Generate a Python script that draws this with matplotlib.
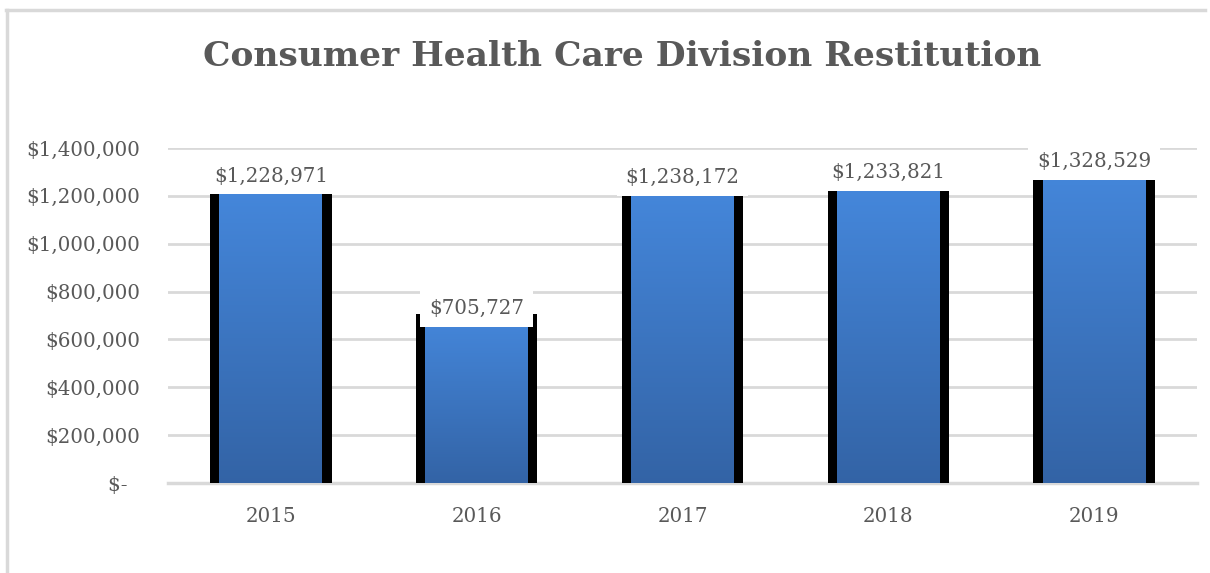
import matplotlib
matplotlib.use("Agg")
import matplotlib.pyplot as plt
import numpy as np
from matplotlib.lines import Line2D

years = ["2015", "2016", "2017", "2018", "2019"]
restitution = [1228971, 705727, 1238172, 1233821, 1328529]
yticks = [0, 200000, 400000, 600000, 800000, 1000000, 1200000, 1400000]
ytick_labels = ["$-  ", "$200,000", "$400,000", "$600,000", "$800,000",
                "$1,000,000", "$1,200,000", "$1,400,000"]
value_labels = ["$1,228,971", "$705,727", "$1,238,172", "$1,233,821", "$1,328,529"]
title = "Consumer Health Care Division Restitution"

label_offsets_px = [13, 6, 9, 15, 4]

TXT = "#595959"
GRID = "#d9d9d9"
FONT = "DejaVu Serif"

fig = plt.figure(figsize=(12.10, 5.73), dpi=100)
ax = fig.add_axes([168/1210, 1-483/573, (1197-168)/1210, (483-148)/573])

x = np.arange(len(years))
outer = ax.bar(x, restitution, width=0.59, color="black", zorder=2)
inner = ax.bar(x, restitution, width=0.50, color="#3f78c4", zorder=3)

top_c = np.array([0.27, 0.53, 0.86])
bot_c = np.array([0.20, 0.39, 0.65])
grad = np.linspace(0, 1, 256)[:, None]
img = (top_c[None, :] * (1 - grad) + bot_c[None, :] * grad)[:, None, :]
for p in inner.patches:
    x0, w, h = p.get_x(), p.get_width(), p.get_height()
    im = ax.imshow(img, extent=[x0, x0 + w, 0, h], aspect="auto",
                   zorder=4, origin="upper", interpolation="bilinear")
    im.set_clip_path(p)

for i, (v, lab) in enumerate(zip(restitution, value_labels)):
    ax.annotate(lab, xy=(x[i], v), xytext=(0, label_offsets_px[i] * 0.72),
                textcoords="offset points", ha="center", va="center",
                fontsize=14.3, family=FONT, color=TXT, zorder=6,
                annotation_clip=False,
                bbox=dict(boxstyle="square,pad=0.45", fc="white", ec="none"))

ax.set_xlim(-0.5, len(years) - 0.5)
ax.set_ylim(0, 1400000)
ax.set_yticks(yticks)
ax.set_yticklabels(ytick_labels)
ax.set_xticks(x)
ax.set_xticklabels(years)
ax.tick_params(axis="y", length=0, pad=20, labelsize=14.3, labelcolor=TXT)
ax.tick_params(axis="x", length=0, pad=17, labelsize=14.3, labelcolor=TXT)
for t in ax.get_xticklabels() + ax.get_yticklabels():
    t.set_family(FONT)
ax.grid(axis="y", color=GRID, linewidth=2, zorder=0)
ax.set_axisbelow(True)
for s in ["top", "right", "left"]:
    ax.spines[s].set_visible(False)
ax.spines["bottom"].set_color(GRID)
ax.spines["bottom"].set_linewidth(2.5)
ax.spines["bottom"].set_zorder(1)

fig.text(622/1210, 1-57/573, title, ha="center", va="center",
         fontsize=24.8, fontweight="bold", family=FONT, color=TXT)

fig.add_artist(Line2D([6/1210, 1205/1210], [1-10/573, 1-10/573],
                      color=GRID, linewidth=2.5, transform=fig.transFigure))
fig.add_artist(Line2D([7/1210, 7/1210], [1-10/573, 0],
                      color=GRID, linewidth=2.5, transform=fig.transFigure))

fig.savefig("out.png", dpi=100)
